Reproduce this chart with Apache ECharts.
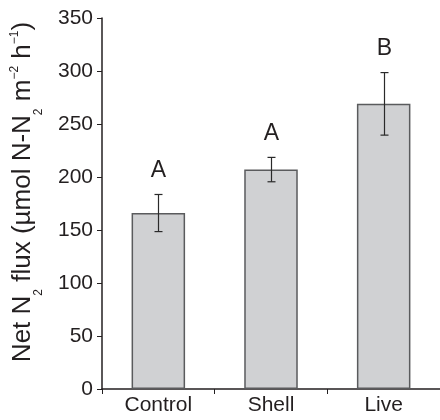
<!DOCTYPE html>
<html>
<head>
<meta charset="utf-8">
<script src="https://cdn.jsdelivr.net/npm/echarts@6/dist/echarts.min.js"></script>
<style>
html,body{margin:0;padding:0;background:#fff;}
#chart{width:440px;height:420px;}
</style>
</head>
<body>
<div id="chart"></div>
<script>
var categories = ['Control', 'Shell', 'Live'];
var fluxMean = [166, 207, 269];
var fluxErr = [17.5, 11.5, 29.5];
var sigLetters = ['A', 'A', 'B'];
var yTicks = [0, 50, 100, 150, 200, 250, 300, 350];

var FONT = 'Liberation Sans, Arial, Helvetica, sans-serif';
var chart = echarts.init(document.getElementById('chart'), null, {renderer: 'canvas'});

var errData = categories.map(function (c, i) {
  return [i, fluxMean[i] - fluxErr[i], fluxMean[i] + fluxErr[i], sigLetters[i]];
});

var option = {
  animation: false,
  backgroundColor: '#ffffff',
  grid: {left: 102, top: 18, width: 340, bottom: 31, containLabel: false},
  xAxis: {
    type: 'category',
    data: categories,
    axisLine: {show: true, lineStyle: {color: '#231f20', width: 1.5}},
    axisTick: {show: true, length: 5, inside: false, alignWithLabel: false, lineStyle: {color: '#231f20', width: 1}},
    axisLabel: {color: '#231f20', fontSize: 21, fontFamily: FONT, margin: 6}
  },
  yAxis: {
    type: 'value',
    min: yTicks[0],
    max: yTicks[yTicks.length - 1],
    interval: 50,
    splitLine: {show: false},
    axisLine: {show: true, lineStyle: {color: '#231f20', width: 1.5}},
    axisTick: {show: true, length: 5, inside: false, lineStyle: {color: '#231f20', width: 1}},
    axisLabel: {color: '#231f20', fontSize: 21, fontFamily: FONT, margin: 9}
  },
  graphic: [{
    type: 'text',
    x: 23,
    y: 192,
    rotation: Math.PI / 2,
    style: {
      text: '{n|Net N}{sub|2}{n| flux (µmol N-N}{sub|2}{n| m}{sup|−2}{n| h}{sup|−1}{n|)}',
      align: 'center',
      verticalAlign: 'middle',
      rich: {
        n: {fontSize: 26, fontFamily: FONT, fill: '#231f20', verticalAlign: 'middle', lineHeight: 40},
        sub: {fontSize: 12, fontFamily: FONT, fill: '#231f20', verticalAlign: 'top', lineHeight: 9, padding: [30, 0, 0, 0]},
        sup: {fontSize: 12, fontFamily: FONT, fill: '#231f20', verticalAlign: 'top', lineHeight: 9, padding: [6, 0, 0, 0]}
      }
    }
  }],
  series: [{
    type: 'bar',
    data: fluxMean,
    barWidth: '47.5%',
    itemStyle: {color: '#d0d1d3', borderColor: '#5a5b5d', borderWidth: 1.5},
    z: 2
  }, {
    type: 'custom',
    data: errData,
    z: 3,
    renderItem: function (params, api) {
      var x = api.value(0);
      var lo = api.coord([x, api.value(1)]);
      var hi = api.coord([x, api.value(2)]);
      var cx = Math.round(lo[0]) + 0.5;
      var cap = 4;
      var s = {stroke: '#2a2a2a', lineWidth: 1.2};
      return {
        type: 'group',
        children: [
          {type: 'line', shape: {x1: cx, y1: lo[1], x2: cx, y2: hi[1]}, style: s},
          {type: 'line', shape: {x1: cx - cap, y1: lo[1], x2: cx + cap, y2: lo[1]}, style: s},
          {type: 'line', shape: {x1: cx - cap, y1: hi[1], x2: cx + cap, y2: hi[1]}, style: s},
          {type: 'text', x: cx, y: hi[1] - 12,
            style: {text: api.value(3), fontSize: 23, fontFamily: FONT, fill: '#231f20', align: 'center', verticalAlign: 'bottom'}}
        ]
      };
    }
  }]
};
chart.setOption(option);
</script>
</body>
</html>
